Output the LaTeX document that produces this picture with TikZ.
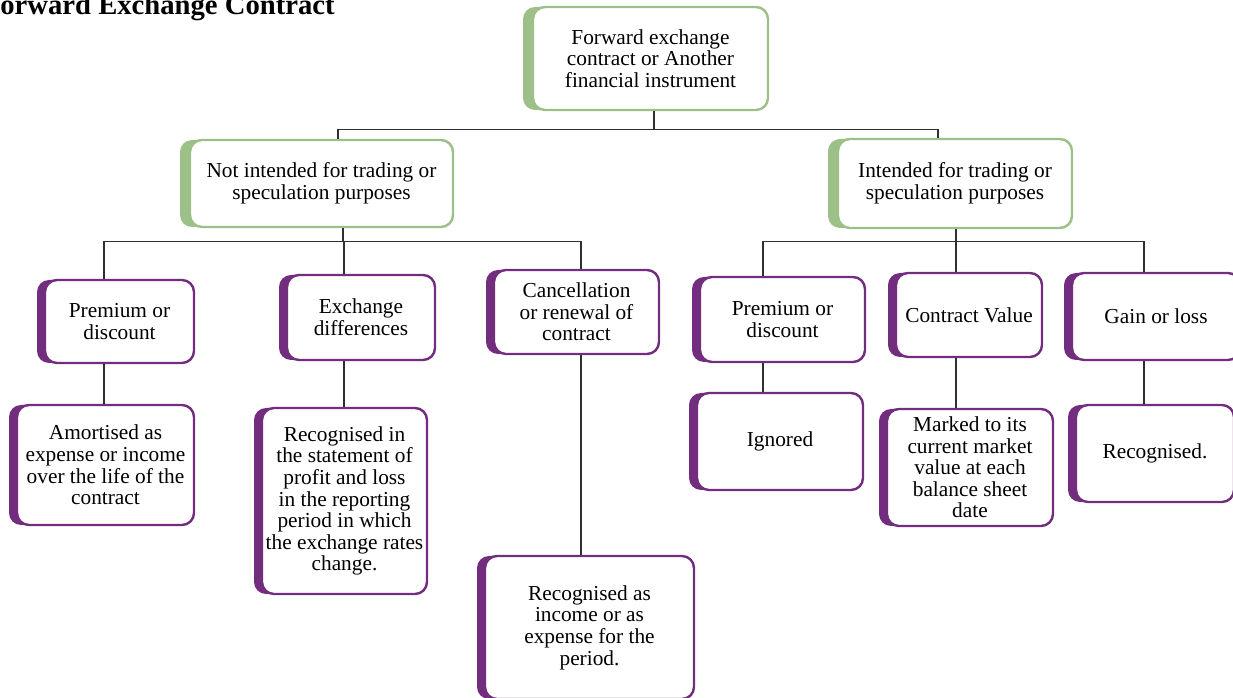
\documentclass[tikz,border=0pt]{standalone}
\usepackage{fontspec}
\setmainfont{Liberation Serif}
\usetikzlibrary{calc,shadows}
\definecolor{LeafGreen}{HTML}{9DBF88}
\definecolor{LeafPurple}{HTML}{732D7F}
\definecolor{LinkGray}{HTML}{303030}

\begin{document}
\begin{tikzpicture}[x=0.75pt, y=-0.75pt,
    every node/.style={font=\fontsize{16}{16.2}\selectfont, align=center, inner sep=0pt},
    greenbox/.style={draw=LeafGreen, line width=1.8pt, fill=white, rounded corners=9pt, general shadow={fill=LeafGreen, shadow xshift=-7.5pt}},
    purplebox/.style={draw=LeafPurple, line width=1.8pt, fill=white, rounded corners=9pt, general shadow={fill=LeafPurple, shadow xshift=-6pt}},
    link/.style={draw=LinkGray, line width=0.9pt}]
    \useasboundingbox (0,0) rectangle (1233,698);
    \clip (0,0) rectangle (1233,698);

    \node[anchor=base east, font=\fontsize{21.5}{22}\bfseries] (title) at (335,15) {Forward Exchange Contract};

    % top and second level
    \node[greenbox, minimum width=176.25pt, minimum height=77.25pt] (root) at (650.5,58.5) {Forward exchange\\contract or Another\\financial instrument};
    \node[greenbox, minimum width=197.25pt, minimum height=65.25pt] (nottrade) at (321.5,183.5) {Not intended for trading or\\speculation purposes};
    \node[greenbox, minimum width=175.5pt, minimum height=66.75pt] (trade) at (955,183.5) {Intended for trading or\\speculation purposes};

    % left branch
    \node[purplebox, minimum width=111.75pt, minimum height=62.25pt] (premL) at (119.5,321.5) {Premium or\\discount};
    \node[purplebox, minimum width=111pt, minimum height=63.75pt] (exch) at (361,317.5) {Exchange\\differences};
    \node[purplebox, minimum width=123.75pt, minimum height=63pt] (cancel) at (576.5,312) {Cancellation\\or renewal of\\contract};
    \node[purplebox, minimum width=132.75pt, minimum height=90pt] (amort) at (105.5,465) {Amortised as\\expense or income\\over the life of the\\contract};
    \node[purplebox, minimum width=123.75pt, minimum height=139.5pt] (recin) at (344.5,501) {Recognised in\\the statement of\\profit and loss\\in the reporting\\period in which\\the exchange rates\\change.};
    \node[purplebox, minimum width=156.75pt, minimum height=107.25pt] (recinc) at (589.5,627.5) {Recognised as\\income or as\\expense for the\\period.};

    % right branch
    \node[purplebox, minimum width=123.75pt, minimum height=63.75pt] (premR) at (782.5,319.5) {Premium or\\discount};
    \node[purplebox, minimum width=109.5pt, minimum height=63pt] (cval) at (969,315) {Contract Value};
    \node[purplebox, minimum width=126pt, minimum height=65.25pt] (gain) at (1156,316.5) {Gain or loss};
    \node[purplebox, minimum width=124.5pt, minimum height=72.75pt] (ignored) at (780,441.5) {Ignored};
    \node[purplebox, minimum width=124.5pt, minimum height=87.75pt] (marked) at (970,467.5) {Marked to its\\current market\\value at each\\balance sheet\\date};
    \node[purplebox, minimum width=118.5pt, minimum height=72.75pt] (recog) at (1155,453.5) {Recognised.};

    % connectors
    \draw[link] ($(root.south)+(3.5,0)$) -- ++(0,18) coordinate (b0);
    \draw[link] ($(nottrade.north)+(16.5,0)$) |- (b0) -| ($(trade.north)+(-17,0)$);
    \draw[link] ($(nottrade.south)+(21.5,0)$) -- ++(0,13) coordinate (b1);
    \draw[link] ($(premL.north)+(-15.5,0)$) |- (b1) -| ($(cancel.north)+(4.5,0)$);
    \draw[link] ($(exch.north)+(-17,0)$) |- (b1);
    \draw[link] ($(trade.south)+(1,0)$) -- ++(0,12) coordinate (b2);
    \draw[link] ($(premR.north)+(-19.5,0)$) |- (b2) -| ($(gain.north)+(-12,0)$);
    \draw[link] ($(cval.north)+(-13,0)$) |- (b2);
    \coordinate (s1) at ($(premL.south)+(-15.5,0)$);
    \coordinate (s2) at ($(exch.south)+(-17,0)$);
    \coordinate (s3) at ($(cancel.south)+(4.5,0)$);
    \coordinate (s4) at ($(premR.south)+(-19.5,0)$);
    \coordinate (s5) at ($(cval.south)+(-13,0)$);
    \coordinate (s6) at ($(gain.south)+(-12,0)$);
    \draw[link] (s1) -- (s1 |- amort.north);
    \draw[link] (s2) -- (s2 |- recin.north);
    \draw[link] (s3) -- (s3 |- recinc.north);
    \draw[link] (s4) -- (s4 |- ignored.north);
    \draw[link] (s5) -- (s5 |- marked.north);
    \draw[link] (s6) -- (s6 |- recog.north);
\end{tikzpicture}
\end{document}
